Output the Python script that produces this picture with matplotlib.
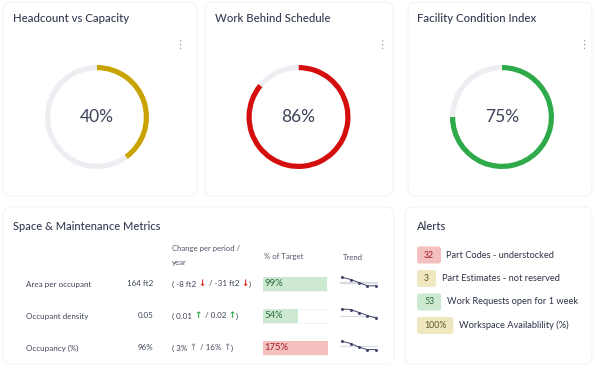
import matplotlib
matplotlib.use('Agg')
import matplotlib.pyplot as plt
from matplotlib.patches import FancyBboxPatch

plt.rcParams['font.family'] = ['Lato', 'DejaVu Sans']

W, H = 597, 368

# gauges
gauge_titles = ['Headcount vs Capacity', 'Work Behind Schedule', 'Facility Condition Index']
gauge_values = [40, 86, 75]
gauge_colors = ['#c9a300', '#d40d0d', '#2eaa4a']

# metrics table
metric_names = ['Area per occupant', 'Occupant density', 'Occupancy (%)']
metric_values = ['164 ft2', '0.05', '96%']
change_period = ['-8 ft2', '0.01', '3%']
change_year = ['-31 ft2', '0.02', '16%']
change_arrow = ['\u2193', '\u2191', '\u2191']
pct_target = [99, 54, 175]
trend = [
    [10.7, 8.5, 5.5, 2.0, 2.3],
    [11.0, 10.5, 7.5, 4.5, 2.0],
    [10.7, 8.5, 5.0, 2.3, 2.5],
]
trend_target = [5.0, 3.7, 6.0]

# alerts
alert_counts = ['32', '3', '53', '100%']
alert_labels = ['Part Codes - understocked', 'Part Estimates - not reserved',
                'Work Requests open for 1 week', 'Workspace Availablility (%)']
alert_kind = ['bad', 'warn', 'good', 'warn']

fill = {'good': '#cde9d2', 'bad': '#f4bfbf', 'warn': '#efe7c0'}
ink = {'good': '#2c6a37', 'bad': '#a11f1f', 'warn': '#5b5424'}
arrow_col = {0: '#e0201f', 1: '#2eaa4a', 2: '#8d919d'}

dark = '#353c52'
txt = '#3d4459'

fig = plt.figure(figsize=(W / 100, H / 100), dpi=100)
bg = fig.add_axes([0, 0, 1, 1])
bg.set_xlim(0, W)
bg.set_ylim(H, 0)
bg.axis('off')


def px_axes(x0, y0, x1, y1):
    return fig.add_axes([x0 / W, 1 - y1 / H, (x1 - x0) / W, (y1 - y0) / H])


def card(x0, y0, x1, y1):
    bg.add_patch(FancyBboxPatch((x0, y0), x1 - x0, y1 - y0,
                                boxstyle='round,pad=0,rounding_size=8',
                                fc='white', ec='#f3f3f3', lw=0.8))


# cards
for x0, x1 in [(3, 197), (205, 393), (408, 592)]:
    card(x0, 2, x1, 196)
card(3, 207, 394, 364)
card(405, 207, 592, 364)

# gauges
centers = [97, 298.5, 502]
title_x = [13, 215, 417]
for i, v in enumerate(gauge_values):
    cx, cy, r = centers[i], 117, 52
    bg.text(title_x[i], 19, gauge_titles[i], fontsize=8.2, color=dark,
            va='center', ha='left', fontweight='medium')
    bg.text(title_x[i] + 167, 45, '\u22ee', fontsize=8, color='#9a9ea8',
            va='center', ha='center', family='DejaVu Sans')
    ax = px_axes(cx - r, cy - r, cx + r, cy + r)
    ax.pie([v, 100 - v], startangle=90, counterclock=False, radius=1,
           colors=[gauge_colors[i], '#eceef2'],
           wedgeprops=dict(width=0.1, linewidth=0))
    ax.set_xlim(-1, 1)
    ax.set_ylim(-1, 1)
    ax.set_aspect('equal')
    ax.text(0, 0, f'{v}%', fontsize=12.5, color=txt, ha='center', va='center')

# metrics table
bg.text(13, 226, 'Space & Maintenance Metrics', fontsize=8, color=dark,
        va='center', ha='left', fontweight='medium')
hdr = dict(fontsize=5.6, color='#50566a', va='center', ha='left')
bg.text(172, 248, 'Change per period /', **hdr)
bg.text(172, 262, 'year', **hdr)
bg.text(264, 257, '% of Target', **hdr)
bg.text(343, 257, 'Trend', **hdr)

renderer = fig.canvas.get_renderer()
row_y = [284 + 32 * i for i in range(3)]
for i, name in enumerate(metric_names):
    y = row_y[i]
    bg.text(26, y, name, fontsize=5.8, color=txt, va='center', ha='left')
    bg.text(153, y, metric_values[i], fontsize=5.8, color=txt, va='center', ha='right')
    parts = [('( ' + change_period[i] + ' ', txt, 'normal'),
             (change_arrow[i], arrow_col[i], 'bold'),
             ('  / ' + change_year[i] + ' ', txt, 'normal'),
             (change_arrow[i], arrow_col[i], 'bold'),
             (')', txt, 'normal')]
    x = 172
    for s, c, wgt in parts:
        kw = dict(fontsize=5.8, color=c, va='center', ha='left', fontweight=wgt)
        if s in ('\u2193', '\u2191'):
            kw['family'] = 'DejaVu Sans'
            kw['fontsize'] = 6.2
        t = bg.text(x, y, s, **kw)
        x += t.get_window_extent(renderer).width

# % of target bars
bax = px_axes(263, 268, 328, 364)
rows = list(range(len(pct_target)))
bax.barh(rows, [100] * 3, height=0.41, color='white', edgecolor='#f2f2f2', lw=0.6)
bar_kind = ['good' if p <= 100 else 'bad' for p in pct_target]
bax.barh(rows, [min(p, 100) for p in pct_target], height=0.41,
         color=[fill[k] for k in bar_kind], lw=0)
for i, p in enumerate(pct_target):
    bax.text(2.5, i, f'{p}%', fontsize=6.8, color=ink[bar_kind[i]], va='center', ha='left')
bax.set_xlim(0, 100)
bax.set_ylim(2.5, -0.5)
bax.axis('off')

# sparklines
for i, vals in enumerate(trend):
    base = row_y[i] + 4
    sax = px_axes(340, base - 14, 378, base)
    xs = range(len(vals))
    sax.axhline(trend_target[i], color='#d9dbe0', lw=1.6 if i == 0 else 0.8, zorder=1)
    sax.plot(xs, vals, color='#3d4466', lw=0.7, marker='s', ms=1.0, zorder=2)
    sax.set_xlim(-0.25, len(vals) - 0.75)
    sax.set_ylim(0, 14)
    sax.axis('off')

# alerts
bg.text(417, 226, 'Alerts', fontsize=8, color=dark, va='center', ha='left', fontweight='medium')
for i, cnt in enumerate(alert_counts):
    y = 255 + 23.5 * i
    k = alert_kind[i]
    t = bg.text(424, y, cnt, fontsize=6.3, color=ink[k], va='center', ha='left', zorder=3)
    w = t.get_window_extent(renderer).width
    bg.add_patch(FancyBboxPatch((417, y - 8.5), w + 14, 17,
                                boxstyle='round,pad=0,rounding_size=2.5',
                                fc=fill[k], ec='none', zorder=2))
    bg.text(417 + w + 14 + 5.5, y, alert_labels[i], fontsize=6.7, color='#2d3348',
            va='center', ha='left')

fig.savefig('out.png', dpi=100, facecolor='white')
